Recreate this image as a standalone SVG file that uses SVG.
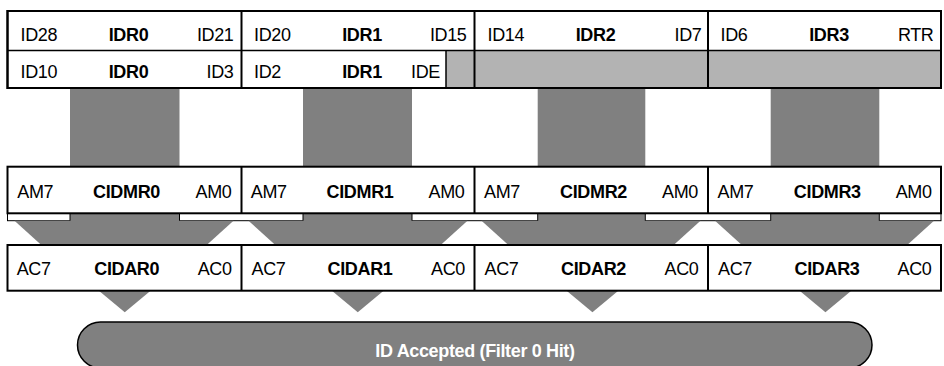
<svg xmlns="http://www.w3.org/2000/svg" width="944" height="366" viewBox="0 0 944 366">
<style>
text{font-family:"Liberation Sans",Arial,sans-serif;font-size:18px;letter-spacing:-0.35px;fill:#000}
.b{font-weight:bold}
.m{text-anchor:middle}
.e{text-anchor:end}
.box{fill:#fff;stroke:#000;stroke-width:2}
.ln{stroke:#000;stroke-width:2;fill:none}
.dk{fill:#808080}
.lt{fill:#b3b3b3}
.gap{fill:#fff;stroke:#000;stroke-width:1}
</style>
<rect width="944" height="366" fill="#fff"/>
<g id="connectors">
<rect class="dk" x="70" y="88" width="109.5" height="133"/>
<rect class="dk" x="303" y="88" width="109" height="133"/>
<rect class="dk" x="537.7" y="88" width="107.6" height="133"/>
<rect class="dk" x="770.7" y="88" width="108.6" height="133"/>
<rect class="gap" x="7.5" y="213.3" width="62.5" height="7.4"/>
<rect class="gap" x="179.5" y="213.3" width="123.5" height="7.4"/>
<rect class="gap" x="412" y="213.3" width="125.7" height="7.4"/>
<rect class="gap" x="645.3" y="213.3" width="125.4" height="7.4"/>
<rect class="gap" x="879.3" y="213.3" width="61.7" height="7.4"/>
<polygon class="dk" points="14.5,220.7 233.5,220.7 204.5,247 43.5,247"/>
<polygon class="dk" points="248.5,220.7 467.5,220.7 438.5,247 277.5,247"/>
<polygon class="dk" points="481.5,220.7 700.5,220.7 671.5,247 510.5,247"/>
<polygon class="dk" points="715,220.7 934,220.7 905,247 744,247"/>
<polygon class="dk" points="98,290 151.5,290 124.75,312.3"/>
<polygon class="dk" points="331,290 384.5,290 357.75,312.3"/>
<polygon class="dk" points="565.7,290 619.2,290 592.45,312.3"/>
<polygon class="dk" points="798.7,290 852.2,290 825.45,312.3"/>
</g>
<g id="idr">
<rect class="box" x="7.5" y="11" width="933.5" height="77"/>
<rect class="lt" x="446" y="50.5" width="495" height="37.5"/>
<line class="ln" x1="7.5" y1="50.5" x2="941" y2="50.5" style="stroke-width:1.7"/>
<line class="ln" x1="446" y1="50.5" x2="446" y2="88" style="stroke-width:1.5"/>
<line class="ln" x1="241.5" y1="11" x2="241.5" y2="88"/>
<line class="ln" x1="474.5" y1="11" x2="474.5" y2="88"/>
<line class="ln" x1="708" y1="11" x2="708" y2="88"/>
<rect x="7.5" y="11" width="933.5" height="77" fill="none" stroke="#000" stroke-width="2"/>
<text x="20.5" y="40.5">ID28</text><text class="b m" x="128.5" y="40.5">IDR0</text><text class="e" x="233.5" y="40.5">ID21</text>
<text x="254" y="40.5">ID20</text><text class="b m" x="362" y="40.5">IDR1</text><text class="e" x="466.5" y="40.5">ID15</text>
<text x="487.5" y="40.5">ID14</text><text class="b m" x="595.5" y="40.5">IDR2</text><text class="e" x="701.5" y="40.5">ID7</text>
<text x="720.5" y="40.5">ID6</text><text class="b m" x="829" y="40.5">IDR3</text><text class="e" x="933.5" y="40.5">RTR</text>
<text x="20.5" y="77.5">ID10</text><text class="b m" x="128.5" y="77.5">IDR0</text><text class="e" x="233.5" y="77.5">ID3</text>
<text x="254" y="77.5">ID2</text><text class="b m" x="362" y="77.5">IDR1</text><text class="e" x="440" y="77.5">IDE</text>
</g>
<g id="cidmr">
<rect class="box" x="7.5" y="166.7" width="933.5" height="46.6"/>
<line class="ln" x1="241.5" y1="166.7" x2="241.5" y2="213.3"/>
<line class="ln" x1="474.5" y1="166.7" x2="474.5" y2="213.3"/>
<line class="ln" x1="708" y1="166.7" x2="708" y2="213.3"/>
<text x="17.3" y="197.5">AM7</text><text class="b m" x="126.5" y="197.5">CIDMR0</text><text class="e" x="231.5" y="197.5">AM0</text>
<text x="250.8" y="197.5">AM7</text><text class="b m" x="360" y="197.5">CIDMR1</text><text class="e" x="464.5" y="197.5">AM0</text>
<text x="484" y="197.5">AM7</text><text class="b m" x="593.5" y="197.5">CIDMR2</text><text class="e" x="698" y="197.5">AM0</text>
<text x="717.5" y="197.5">AM7</text><text class="b m" x="827.3" y="197.5">CIDMR3</text><text class="e" x="931.7" y="197.5">AM0</text>
</g>
<g id="cidar">
<rect class="box" x="7.5" y="245" width="933.5" height="45.7"/>
<line class="ln" x1="241.5" y1="245" x2="241.5" y2="290.7"/>
<line class="ln" x1="474.5" y1="245" x2="474.5" y2="290.7"/>
<line class="ln" x1="708" y1="245" x2="708" y2="290.7"/>
<text x="16.7" y="275">AC7</text><text class="b m" x="126.7" y="275">CIDAR0</text><text class="e" x="231.7" y="275">AC0</text>
<text x="251.5" y="275">AC7</text><text class="b m" x="360" y="275">CIDAR1</text><text class="e" x="465" y="275">AC0</text>
<text x="484.5" y="275">AC7</text><text class="b m" x="593.5" y="275">CIDAR2</text><text class="e" x="698.5" y="275">AC0</text>
<text x="718" y="275">AC7</text><text class="b m" x="827" y="275">CIDAR3</text><text class="e" x="931.5" y="275">AC0</text>
</g>
<g id="accepted">
<rect x="77.5" y="322" width="794.5" height="46" rx="23" ry="23" fill="#808080" stroke="#000" stroke-width="1.5"/>
<text class="b m" x="475" y="357" style="fill:#fff">ID Accepted (Filter 0 Hit)</text>
</g>
</svg>
